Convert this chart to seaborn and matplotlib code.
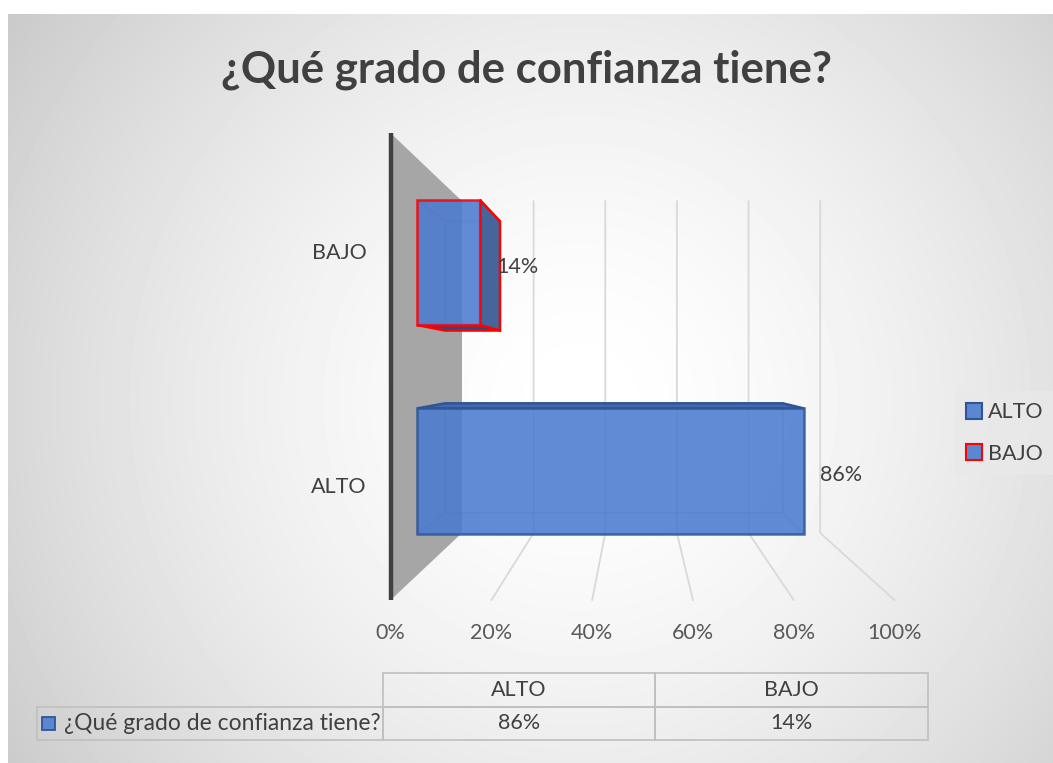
import numpy as np
import pandas as pd
import matplotlib
matplotlib.use("Agg")
import matplotlib.pyplot as plt
from matplotlib.patches import Polygon, Patch, Rectangle
import seaborn as sns

# data
categories = ["BAJO", "ALTO"]           # top to bottom, as in the chart
values = [0.14, 0.86]
value_labels = ["14%", "86%"]
edge_colors = ["#ff0000", "#2f5597"]
value_ticks = [0.0, 0.2, 0.4, 0.6, 0.8, 1.0]
tick_labels = ["0%", "20%", "40%", "60%", "80%", "100%"]
table_columns = ["ALTO", "BAJO"]
table_values = ["86%", "14%"]
series_name = "¿Qué grado de confianza tiene?"
title = "¿Qué grado de confianza tiene?"

sns.set_theme(style="white")
plt.rcParams["font.family"] = ["Lato", "DejaVu Sans"]
FS = 15.5

W, H = 1053, 763
fig = plt.figure(figsize=(W / 100, H / 100), dpi=100)
fig.patch.set_facecolor("white")

# radial grey background of the chart area
bg = fig.add_axes([8 / W, 0, 1 - 8 / W, 1 - 14 / H], zorder=-10)
yy, xx = np.mgrid[14:H, 8:W]
r = np.hypot(xx - 580, yy - 400) / 720
shade = 1 - (57 / 255) * np.clip(r, 0, 1) ** 1.6
bg.imshow(shade, cmap="gray", vmin=0, vmax=1, aspect="auto")
bg.set_axis_off()

# main axes: data coords are the plane of the bars' front faces
XL = (-0.2, 1.2)
YL = (1.8, -0.8)
px_x = lambda v: 417 + 450 * v
px_y = lambda c: 262.5 + 208.5 * c
ax = fig.add_axes([px_x(XL[0]) / W, 1 - px_y(YL[0]) / H,
                   (px_x(XL[1]) - px_x(XL[0])) / W, (px_y(YL[0]) - px_y(YL[1])) / H])
ax.patch.set_alpha(0)

# simple perspective: depth factor k, vanishing point in data coords
VP = (0.49, 0.506)
K_FRONT, K_BAR_BACK, K_WALL = 1.12, 0.873, 0.796


def proj(v, c, k):
    return (VP[0] + k * (v - VP[0]), VP[1] + k * (c - VP[1]))


df = pd.DataFrame({"cat": categories, "val": values})
sns.barplot(data=df, x="val", y="cat", order=categories, color="#4a7bd0",
            saturation=1, width=0.6, ax=ax, zorder=6)

c_lo, c_hi = -0.5, len(categories) - 0.5

# back wall / floor gridlines
for v in value_ticks[1:]:
    pts = [proj(v, c_lo, K_WALL), proj(v, c_hi, K_WALL), proj(v, c_hi, K_FRONT)]
    ax.plot(*zip(*pts), color="#d9d9d9", lw=1.3, zorder=1, clip_on=False)

# grey side wall and its dark front edge
wall = [proj(0, c_lo, K_FRONT), proj(0, c_lo, K_WALL), proj(0, c_hi, K_WALL), proj(0, c_hi, K_FRONT)]
ax.add_patch(Polygon(wall, closed=True, facecolor="#a6a6a6", edgecolor="none", zorder=2, clip_on=False))
ax.plot(*zip(wall[0], wall[3]), color="#404040", lw=3.2, zorder=3, solid_capstyle="butt", clip_on=False)

# 3d boxes around the seaborn bars
face_cols = {"top": "#4468b0", "bottom": "#34497a", "left": "#4f76bf", "right": "#46659a"}
for p, ec, lab in zip(ax.patches, edge_colors, value_labels):
    x0, y0 = p.get_x(), p.get_y()
    x1, y1 = x0 + p.get_width(), y0 + p.get_height()
    f = {"a": (x0, y0), "b": (x1, y0), "c": (x1, y1), "d": (x0, y1)}
    b = {key: proj(*pt, K_BAR_BACK) for key, pt in f.items()}
    faces = {
        "top": [f["a"], f["b"], b["b"], b["a"]],
        "bottom": [f["d"], f["c"], b["c"], b["d"]],
        "left": [f["a"], f["d"], b["d"], b["a"]],
        "right": [f["b"], f["c"], b["c"], b["b"]],
    }
    visible = {"top": VP[1] < y0, "bottom": VP[1] > y1, "left": VP[0] < x0, "right": VP[0] > x1}
    ax.add_patch(Polygon([b[k] for k in "abcd"], closed=True, facecolor="#4472c4", alpha=0.12,
                         edgecolor=ec, lw=1.2, zorder=3.5, clip_on=False))
    for name, poly in faces.items():
        if visible[name]:
            ax.add_patch(Polygon(poly, closed=True, facecolor=face_cols[name], edgecolor=ec,
                                 lw=1.8, zorder=5, clip_on=False))
        else:
            ax.add_patch(Polygon(poly, closed=True, facecolor=face_cols[name], alpha=0.12,
                                 edgecolor=ec, lw=1.2, zorder=4, clip_on=False))
    p.set_alpha(0.85)
    p.set_edgecolor(ec)
    p.set_linewidth(1.8)
    ax.annotate(lab, (x1, (y0 + y1) / 2), xytext=(11.5, -3), textcoords="offset points",
                ha="left", va="center", fontsize=FS, color="#404040",
                annotation_clip=False, zorder=8)

# value axis labels on the front edge of the floor
for v, lab in zip(value_ticks, tick_labels):
    ax.annotate(lab, proj(v, c_hi, K_FRONT), xytext=(0, -23.8), textcoords="offset points",
                ha="center", va="center", fontsize=FS, color="#595959", annotation_clip=False)

# category labels
for i, cat in enumerate(categories):
    ax.annotate(cat, proj(0, i, K_FRONT), xytext=(-17, -2.5), textcoords="offset points",
                ha="right", va="center", fontsize=FS, color="#404040", annotation_clip=False)

ax.set_xlim(*XL)
ax.set_ylim(*YL)
ax.set_axis_off()

fig.text(0.5, 1 - 83 / H, title, ha="center", va="baseline", fontsize=31.5,
         fontweight="bold", color="#404040")

# legend
handles = [Patch(facecolor="#5b87d1", edgecolor="#2f5597", lw=1.5, label=table_columns[0]),
           Patch(facecolor="#5b87d1", edgecolor="#ff0000", lw=1.5, label=table_columns[1])]
leg = fig.legend(handles=handles, loc="center left", bbox_to_anchor=(944 / W, 1 - 433 / H),
                 fontsize=FS, handlelength=0.75, handleheight=0.75, handletextpad=0.3,
                 labelspacing=1.0, frameon=True, fancybox=False, borderpad=0.5)
leg.get_frame().set_facecolor("#e9e9e9")
leg.get_frame().set_edgecolor("none")
for t in leg.get_texts():
    t.set_color("#404040")

# data table
ax_t = fig.add_axes([37 / W, 1 - 740 / H, (928 - 37) / W, (740 - 673) / H])
ax_t.set_axis_off()
widths = np.array([346, 272, 273]) / 891
tbl = ax_t.table(cellText=[[""] + table_columns, [series_name] + table_values],
                 colWidths=list(widths), bbox=[0, 0, 1, 1], cellLoc="center")
tbl.auto_set_font_size(False)
tbl.set_fontsize(FS)
for (row, col), cell in tbl.get_celld().items():
    cell.set_edgecolor("#bfbfbf")
    cell.set_facecolor("none")
    cell.set_linewidth(1.2)
    cell.get_text().set_color("#404040")
    if row == 0 and col == 0:
        cell.visible_edges = ""
    if row == 1 and col == 0:
        cell._loc = "left"
        cell.PAD = 27 / 346
        cell.get_text().set_ha("left")
        cell.get_text().set_fontsize(16.5)
ax_t.add_patch(Rectangle((5 / 891, 0.25 - 6.5 / 67), 13 / 891, 13 / 67, transform=ax_t.transAxes,
                         facecolor="#5b87d1", edgecolor="#2f5597", lw=1.3, clip_on=False))

fig.savefig("out.png", dpi=100)
